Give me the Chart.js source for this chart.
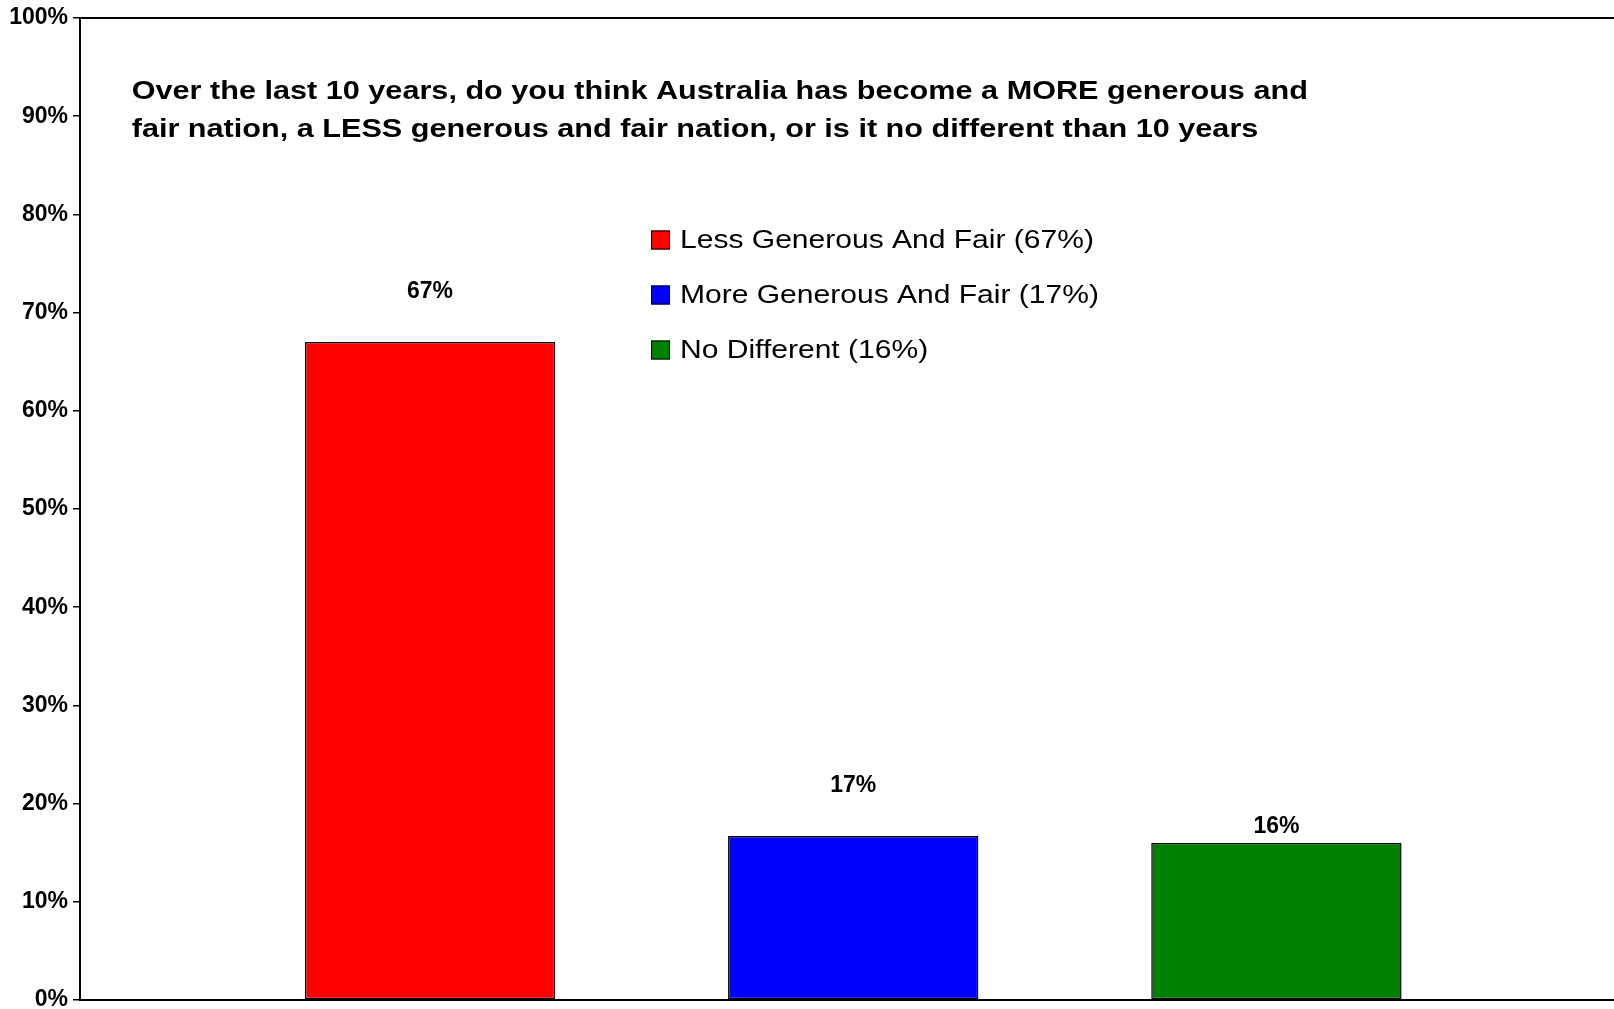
<!DOCTYPE html>
<html><head><meta charset="utf-8">
<script src="https://cdn.jsdelivr.net/npm/chart.js@4/dist/chart.umd.min.js"></script>
<style>
html,body{margin:0;padding:0;background:#fff;overflow:hidden;width:1614px;height:1009px}
#wrap{position:absolute;left:0;top:0;width:1640px;height:1009px}
</style>
</head><body><div id="wrap"><canvas id="c" width="1640" height="1009"></canvas></div>
<script>
// ---- data ----
const categories = ["Less Generous And Fair", "More Generous And Fair", "No Different"];
const values = [67, 16.7, 16];
const valueLabels = ["67%", "17%", "16%"];
const yTickValues = [0, 10, 20, 30, 40, 50, 60, 70, 80, 90, 100];
const yTickLabels = ["0%", "10%", "20%", "30%", "40%", "50%", "60%", "70%", "80%", "90%", "100%"];
const titleLines = [
  "Over the last 10 years, do you think Australia has become a MORE generous and",
  "fair nation, a LESS generous and fair nation, or is it no different than 10 years"
];
// ---- styles ----
const colors = ["#FF0000", "#0000FF", "#008000"];
const labelGaps = [44, 44, 10];
const FONT = '"Liberation Sans", Arial, Helvetica, sans-serif';

const overlay = {
  id: 'overlay',
  afterDraw(chart) {
    const ctx = chart.ctx;
    ctx.save();
    ctx.fillStyle = '#000';
    ctx.textAlign = 'left';
    ctx.textBaseline = 'alphabetic';
    // title
    ctx.font = 'bold 26px ' + FONT;
    titleLines.forEach((t, i) => {
      ctx.save();
      ctx.translate(131.7, 99.3 + i * 37.7);
      ctx.scale(1.178, 1);
      ctx.fillText(t, 0, 0);
      ctx.restore();
    });
    // legend
    chart.data.datasets.forEach((ds, i) => {
      const base = 247.5 + i * 55;
      ctx.fillStyle = ds.backgroundColor;
      ctx.fillRect(651, base - 17, 19, 19);
      ctx.strokeStyle = '#000';
      ctx.lineWidth = 1;
      ctx.strokeRect(651.5, base - 16.5, 18, 18);
      ctx.fillStyle = '#000';
      ctx.font = '26px ' + FONT;
      ctx.save();
      ctx.translate(680, base);
      ctx.scale(1.155, 1);
      ctx.fillText(ds.label, 0, 0);
      ctx.restore();
    });
    // data labels
    ctx.font = 'bold 23px ' + FONT;
    ctx.textAlign = 'center';
    chart.data.datasets.forEach((ds, i) => {
      const el = chart.getDatasetMeta(i).data[0];
      ctx.fillText(valueLabels[i], el.x, el.y - labelGaps[i]);
    });
    ctx.restore();
  }
};

new Chart(document.getElementById('c'), {
  type: 'bar',
  data: {
    labels: [''],
    datasets: categories.map((c, i) => ({
      label: c + ' (' + valueLabels[i] + ')',
      data: [values[i]],
      xAxisID: 'x',
      backgroundColor: colors[i],
      borderColor: '#000',
      borderWidth: 1.5,
      borderSkipped: false,
      categoryPercentage: 0.821,
      barPercentage: 0.5915
    }))
  },
  options: {
    responsive: false,
    devicePixelRatio: 1,
    animation: false,
    layout: { padding: { top: 18, right: 13.6, bottom: 0, left: 0 } },
    plugins: { legend: { display: false }, tooltip: { enabled: false } },
    scales: {
      x: {
        position: 'bottom',
        grid: { display: false },
        ticks: { display: false },
        border: { display: true, color: '#000', width: 2 },
        afterFit: s => { s.height = 9; }
      },
      xTop: {
        type: 'category',
        axis: 'x',
        position: 'top',
        grid: { display: false },
        ticks: { display: false },
        border: { display: true, color: '#000', width: 2 },
        afterFit: s => { s.height = 0; }
      },
      y: {
        min: 0, max: 100,
        afterBuildTicks: s => { s.ticks = yTickValues.map(v => ({ value: v })); },
        ticks: {
          callback: v => yTickLabels[yTickValues.indexOf(v)],
          color: '#000',
          padding: 5,
          font: { family: FONT, size: 23, weight: 'bold' }
        },
        grid: { drawOnChartArea: false, drawTicks: true, tickLength: 7, color: '#000', lineWidth: 1.5 },
        border: { display: true, color: '#000', width: 2 },
        afterFit: s => { s.width = 80; s.paddingTop = 0; s.paddingBottom = 0; }
      }
    }
  },
  plugins: [overlay]
});
</script>
</body></html>
